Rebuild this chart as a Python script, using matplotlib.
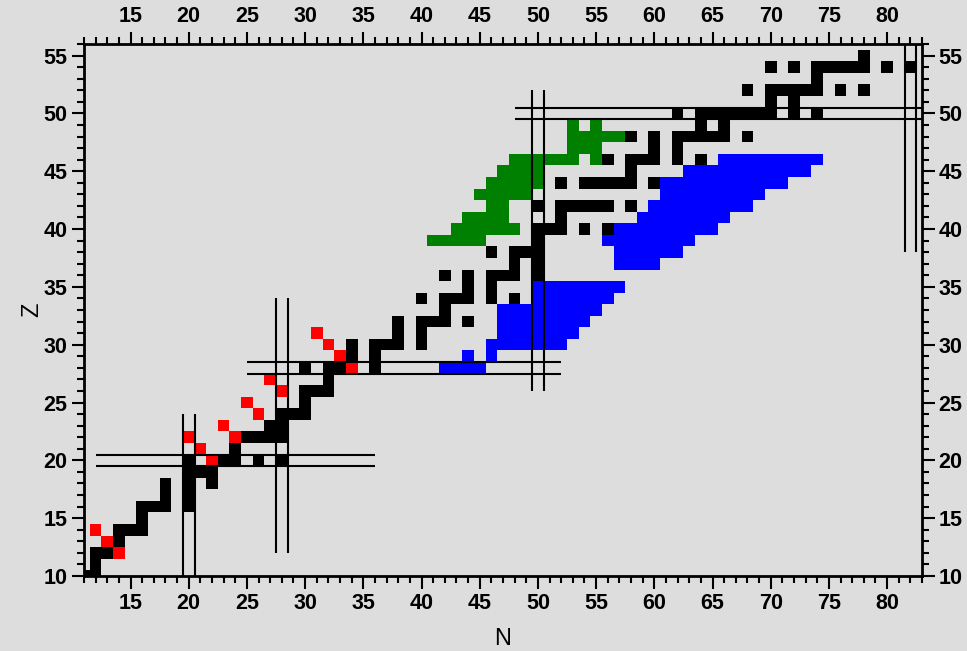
import matplotlib
matplotlib.use("Agg")
import matplotlib.pyplot as plt
import numpy as np

# ---- data: (N, Z) cells ----
# black cells
black_N = [11, 12,
           12,
           12, 13, 14,
           14,
           14, 15, 16,
           16,
           16, 17, 18, 20,
           18, 20,
           18, 20, 22,
           20, 21, 22,
           20, 22, 23, 24, 26, 28,
           24,
           24, 25, 26, 27, 28,
           27, 28,
           26, 28, 29, 30,
           30,
           28, 30, 31, 32,
           32,
           30, 32, 33, 34, 36,
           34, 36,
           34, 36, 37, 38, 40,
           38, 40,
           38, 40, 41, 42, 44,
           42,
           40, 42, 43, 44, 46, 48,
           44, 46,
           42, 44, 46, 47, 48, 50,
           48, 50,
           46, 48, 49, 50,
           50,
           50, 51, 52, 54, 56,
           52,
           50, 52, 53, 54, 55, 56, 58,
           52, 54, 55, 56, 57, 58, 60,
           58,
           56, 58, 59, 60, 62, 64,
           60, 62,
           58, 60, 62, 63, 64, 65, 66, 68,
           64, 66,
           62, 64, 65, 66, 67, 68, 69, 70, 72, 74,
           70, 72,
           68, 70, 71, 72, 73, 74, 76, 78,
           74,
           70, 72, 74, 75, 76, 77, 78, 80, 82,
           78]
black_Z = [10, 10,
           11,
           12, 12, 12,
           13,
           14, 14, 14,
           15,
           16, 16, 16, 16,
           17, 17,
           18, 18, 18,
           19, 19, 19,
           20, 20, 20, 20, 20, 20,
           21,
           22, 22, 22, 22, 22,
           23, 23,
           24, 24, 24, 24,
           25,
           26, 26, 26, 26,
           27,
           28, 28, 28, 28, 28,
           29, 29,
           30, 30, 30, 30, 30,
           31, 31,
           32, 32, 32, 32, 32,
           33,
           34, 34, 34, 34, 34, 34,
           35, 35,
           36, 36, 36, 36, 36, 36,
           37, 37,
           38, 38, 38, 38,
           39,
           40, 40, 40, 40, 40,
           41,
           42, 42, 42, 42, 42, 42, 42,
           44, 44, 44, 44, 44, 44, 44,
           45,
           46, 46, 46, 46, 46, 46,
           47, 47,
           48, 48, 48, 48, 48, 48, 48, 48,
           49, 49,
           50, 50, 50, 50, 50, 50, 50, 50, 50, 50,
           51, 51,
           52, 52, 52, 52, 52, 52, 52, 52,
           53,
           54, 54, 54, 54, 54, 54, 54, 54, 54,
           55]

# red cells
red_N = [12, 13, 14, 20, 21, 22, 23, 24, 25, 26, 27, 28, 31, 32, 33, 34]
red_Z = [14, 13, 12, 22, 21, 20, 23, 22, 25, 24, 27, 26, 31, 30, 29, 28]

# green cells
green_N = [41, 42, 43, 44, 45,
           43, 44, 45, 46, 47, 48,
           44, 45, 46, 47,
           46, 47,
           45, 46, 47, 48, 49,
           46, 47, 48, 49, 50,
           47, 48, 49, 50,
           48, 49, 50, 51, 52, 53, 55,
           53, 54, 55,
           53, 54, 55, 56, 57,
           53, 55]
green_Z = [39, 39, 39, 39, 39,
           40, 40, 40, 40, 40, 40,
           41, 41, 41, 41,
           42, 42,
           43, 43, 43, 43, 43,
           44, 44, 44, 44, 44,
           45, 45, 45, 45,
           46, 46, 46, 46, 46, 46, 46,
           47, 47, 47,
           48, 48, 48, 48, 48,
           49, 49]

# blue cells
blue_N = [42, 43, 44, 45,
          44, 46,
          46, 47, 48, 49, 50, 51, 52,
          47, 48, 49, 50, 51, 52, 53,
          47, 48, 49, 50, 51, 52, 53, 54,
          47, 48, 49, 50, 51, 52, 53, 54, 55,
          50, 51, 52, 53, 54, 55, 56,
          50, 51, 52, 53, 54, 55, 56, 57,
          57, 58, 59, 60,
          57, 58, 59, 60, 61, 62,
          56, 57, 58, 59, 60, 61, 62, 63,
          57, 58, 59, 60, 61, 62, 63, 64, 65,
          59, 60, 61, 62, 63, 64, 65, 66,
          60, 61, 62, 63, 64, 65, 66, 67, 68,
          61, 62, 63, 64, 65, 66, 67, 68, 69,
          61, 62, 63, 64, 65, 66, 67, 68, 69, 70, 71,
          63, 64, 65, 66, 67, 68, 69, 70, 71, 72, 73,
          66, 67, 68, 69, 70, 71, 72, 73, 74]
blue_Z = [28, 28, 28, 28,
          29, 29,
          30, 30, 30, 30, 30, 30, 30,
          31, 31, 31, 31, 31, 31, 31,
          32, 32, 32, 32, 32, 32, 32, 32,
          33, 33, 33, 33, 33, 33, 33, 33, 33,
          34, 34, 34, 34, 34, 34, 34,
          35, 35, 35, 35, 35, 35, 35, 35,
          37, 37, 37, 37,
          38, 38, 38, 38, 38, 38,
          39, 39, 39, 39, 39, 39, 39, 39,
          40, 40, 40, 40, 40, 40, 40, 40, 40,
          41, 41, 41, 41, 41, 41, 41, 41,
          42, 42, 42, 42, 42, 42, 42, 42, 42,
          43, 43, 43, 43, 43, 43, 43, 43, 43,
          44, 44, 44, 44, 44, 44, 44, 44, 44, 44, 44,
          45, 45, 45, 45, 45, 45, 45, 45, 45, 45, 45,
          46, 46, 46, 46, 46, 46, 46, 46, 46]

# magic-number double lines: (magic value, start, end)
magic_Z_lines = [(20, 12, 36), (28, 25, 52), (50, 48, 83)]   # horizontal, over N range
magic_N_lines = [(20, 10, 24), (28, 12, 34), (50, 26, 52), (82, 38, 56)]  # vertical, over Z range

x_ticks = [15, 20, 25, 30, 35, 40, 45, 50, 55, 60, 65, 70, 75, 80]
y_ticks = [10, 15, 20, 25, 30, 35, 40, 45, 50, 55]

BG = "#dddddd"
fig = plt.figure(figsize=(9.67, 6.51), dpi=100, facecolor=BG)
ax = fig.add_axes([84 / 967, 75 / 651, 838 / 967, 532 / 651], facecolor=BG)


def cells(ns, zs, color, z):
    ns = np.asarray(ns, dtype=float)
    zs = np.asarray(zs, dtype=float)
    ax.bar(ns, np.ones_like(zs), width=1.0, bottom=zs - 0.5, color=color,
           linewidth=0, zorder=z, align="center")


cells(black_N, black_Z, "black", 2)
cells(green_N, green_Z, "#008000", 2)
cells(blue_N, blue_Z, "#0000ff", 2)
cells(red_N, red_Z, "#ff0000", 3)

for m, a, b in magic_Z_lines:
    for off in (-0.5, 0.5):
        ax.plot([a, b], [m + off, m + off], color="black", lw=1.5, zorder=4,
                solid_capstyle="butt")
for m, a, b in magic_N_lines:
    for off in (-0.5, 0.5):
        ax.plot([m + off, m + off], [a, b], color="black", lw=1.5, zorder=4,
                solid_capstyle="butt")

ax.set_xlim(11, 83)
ax.set_ylim(10, 56)
ax.set_xticks(x_ticks)
ax.set_yticks(y_ticks)
ax.set_xticks(np.arange(11, 84), minor=True)
ax.set_yticks(np.arange(10, 57), minor=True)
ax.tick_params(which="both", direction="out", top=True, right=True,
               labeltop=True, labelright=True, width=1.5, color="black")
ax.tick_params(which="major", length=9, pad=3)
ax.tick_params(which="minor", length=5)
for lab in ax.get_xticklabels() + ax.get_yticklabels():
    lab.set_fontfamily(["Liberation Sans", "DejaVu Sans"])
    lab.set_fontweight("bold")
    lab.set_fontsize(15.5)
for sp in ax.spines.values():
    sp.set_linewidth(2)
    sp.set_color("black")

ax.set_xlabel("N", fontsize=17, family=["Liberation Sans", "DejaVu Sans"], labelpad=10)
ax.set_ylabel("Z", fontsize=17, family=["Liberation Sans", "DejaVu Sans"], labelpad=0)

fig.savefig("out.png", dpi=100, facecolor=BG)
